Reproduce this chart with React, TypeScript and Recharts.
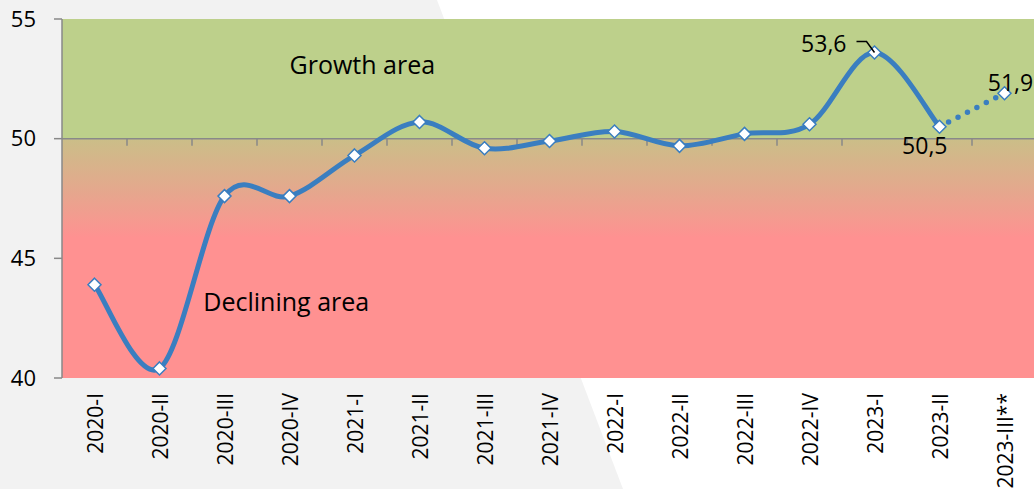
import React from 'react';
import {
  LineChart,
  Line,
  XAxis,
  YAxis,
  ReferenceArea,
  ReferenceLine,
  ReferenceDot,
  LabelList,
} from 'recharts';

const categories = [
  '2020-I', '2020-II', '2020-III', '2020-IV',
  '2021-I', '2021-II', '2021-III', '2021-IV',
  '2022-I', '2022-II', '2022-III', '2022-IV',
  '2023-I', '2023-II', '2023-III**',
];
const actualValues = [43.9, 40.4, 47.6, 47.6, 49.3, 50.7, 49.6, 49.9, 50.3, 49.7, 50.2, 50.6, 53.6, 50.5];
const forecastValues = [51.9];
const yTicks = [40, 45, 50, 55];
const labelledPoints = [12, 13, 14];

const BLUE = '#3A7EC0';
const AXIS = '#898989';
const FONT = '"Open Sans", sans-serif';

const data = categories.map((cat, i) => {
  const last = actualValues.length - 1;
  return {
    idx: i,
    cat,
    actual: i < actualValues.length ? actualValues[i] : null,
    forecast: i === last ? actualValues[last] : i > last ? forecastValues[i - last - 1] : null,
  };
});

// excel-like smoothing (catmull-rom, 1/6 tangents)
function excelCurve(context: any) {
  let pts: number[][] = [];
  return {
    areaStart() {},
    areaEnd() {},
    lineStart() { pts = []; },
    point(x: number, y: number) { pts.push([+x, +y]); },
    lineEnd() {
      const n = pts.length;
      if (!n) return;
      context.moveTo(pts[0][0], pts[0][1]);
      for (let i = 0; i < n - 1; i++) {
        const p0 = pts[Math.max(i - 1, 0)];
        const p1 = pts[i];
        const p2 = pts[i + 1];
        const p3 = pts[Math.min(i + 2, n - 1)];
        context.bezierCurveTo(
          p1[0] + (p2[0] - p0[0]) / 6, p1[1] + (p2[1] - p0[1]) / 6,
          p2[0] - (p3[0] - p1[0]) / 6, p2[1] - (p3[1] - p1[1]) / 6,
          p2[0], p2[1],
        );
      }
    },
  };
}

const Diamond = (props: any) => {
  const { cx, cy, index, only } = props;
  if (cx == null || cy == null) return null;
  if (only != null && index !== only) return null;
  const r = 6.5;
  return (
    <polygon
      key={`d-${index}`}
      points={`${cx},${cy - r} ${cx + r},${cy} ${cx},${cy + r} ${cx - r},${cy}`}
      fill="#fff"
      stroke={BLUE}
      strokeWidth={1.5}
    />
  );
};

const PointLabel = (props: any) => {
  const { x, y, value, index } = props;
  if (value == null || !labelledPoints.includes(index)) return null;
  const txt = String(value).replace('.', ',');
  const style = { fontFamily: FONT, fontSize: 23, fill: '#000' };
  if (index === 12) {
    return (
      <g>
        <polyline points={`${x - 18},${y - 11} ${x - 8},${y - 11} ${x},${y}`} fill="none" stroke="#000" strokeWidth={1.5} />
        <text x={x - 28} y={y - 10} dominantBaseline="central" textAnchor="end" style={style}>{txt}</text>
      </g>
    );
  }
  if (index === 13) {
    return <text x={x + 8} y={y + 18} dominantBaseline="central" textAnchor="end" style={style}>{txt}</text>;
  }
  return <text x={x + 6} y={y - 11} dominantBaseline="central" textAnchor="middle" style={style}>{txt}</text>;
};

const XTick = (props: any) => {
  const { x, y, payload } = props;
  return (
    <text
      x={x}
      y={y}
      transform={`rotate(-90 ${x} ${y})`}
      textAnchor="end"
      dominantBaseline="central"
      style={{ fontFamily: FONT, fontSize: 21, fill: '#000' }}
    >
      {categories[payload.value]}
    </text>
  );
};

const areaLabel = (text: string) => (props: any) => {
  const { cx, cy } = props.viewBox ? { cx: props.viewBox.x, cy: props.viewBox.y } : props;
  return (
    <text x={cx} y={cy} textAnchor="middle" dominantBaseline="central" style={{ fontFamily: FONT, fontSize: 25, fill: '#000' }}>
      {text}
    </text>
  );
};

export default function App() {
  return (
    <div style={{ position: 'absolute', left: 0, top: 0, width: 1034, height: 489, overflow: 'hidden', background: '#fff' }}>
      <svg width={1034} height={489} style={{ position: 'absolute', left: 0, top: 0 }}>
        <polygon points="0,0 437,0 623,489 0,489" fill="#f2f2f2" />
      </svg>
      <div style={{ position: 'absolute', left: 0, top: 0 }}>
        <LineChart width={1037} height={489} data={data} margin={{ top: 19, right: 0, left: 0, bottom: 0 }}>
          <defs>
            <linearGradient id="zone" x1="0" y1="0" x2="0" y2="1">
              <stop offset="0" stopColor="#BDD08B" />
              <stop offset="0.333" stopColor="#BDD08B" />
              <stop offset="0.335" stopColor="#CBBE88" />
              <stop offset="0.47" stopColor="#E3A98D" />
              <stop offset="0.61" stopColor="#FF9191" />
              <stop offset="1" stopColor="#FF9191" />
            </linearGradient>
          </defs>
          <XAxis
            dataKey="idx"
            type="number"
            domain={[-0.5, categories.length - 0.5]}
            ticks={categories.map((_, i) => i)}
            interval={0}
            axisLine={false}
            tickLine={false}
            tickSize={0}
            tickMargin={15}
            height={111}
            tick={<XTick />}
          />
          <YAxis
            domain={[40, 55]}
            ticks={yTicks}
            width={62}
            axisLine={{ stroke: AXIS, strokeWidth: 1.5 }}
            tickLine={{ stroke: AXIS, strokeWidth: 1.5 }}
            tickSize={8}
            tickMargin={18}
            tick={{ fill: '#000', fontSize: 22, fontFamily: FONT }}
            allowDataOverflow
          />
          <ReferenceArea x1={-0.5} x2={categories.length - 0.5} y1={40} y2={55} fill="url(#zone)" fillOpacity={1} stroke="none" ifOverflow="hidden" />
          <ReferenceLine y={50} stroke={AXIS} strokeWidth={1.5} />
          {categories.slice(1).map((_, i) => (
            <ReferenceLine
              key={i}
              segment={[{ x: i + 0.5, y: 50 }, { x: i + 0.5, y: 49.7 }]}
              stroke={AXIS}
              strokeWidth={1.5}
            />
          ))}
          <ReferenceDot x={4.12} y={53.1} r={0} fill="none" stroke="none" label={areaLabel('Growth area')} />
          <ReferenceDot x={2.95} y={43.2} r={0} fill="none" stroke="none" label={areaLabel('Declining area')} />
          <Line
            dataKey="forecast"
            type={excelCurve as any}
            stroke={BLUE}
            strokeWidth={5.5}
            strokeLinecap="round"
            strokeDasharray="0 10.5"
            dot={(p: any) => <Diamond {...p} only={categories.length - 1} />}
            activeDot={false}
            isAnimationActive={false}
          >
            <LabelList dataKey="forecast" content={(p: any) => (p.index === categories.length - 1 ? <PointLabel {...p} /> : null)} />
          </Line>
          <Line
            dataKey="actual"
            type={excelCurve as any}
            stroke={BLUE}
            strokeWidth={5}
            dot={(p: any) => <Diamond {...p} />}
            activeDot={false}
            isAnimationActive={false}
          >
            <LabelList dataKey="actual" content={(p: any) => <PointLabel {...p} />} />
          </Line>
        </LineChart>
      </div>
    </div>
  );
}
